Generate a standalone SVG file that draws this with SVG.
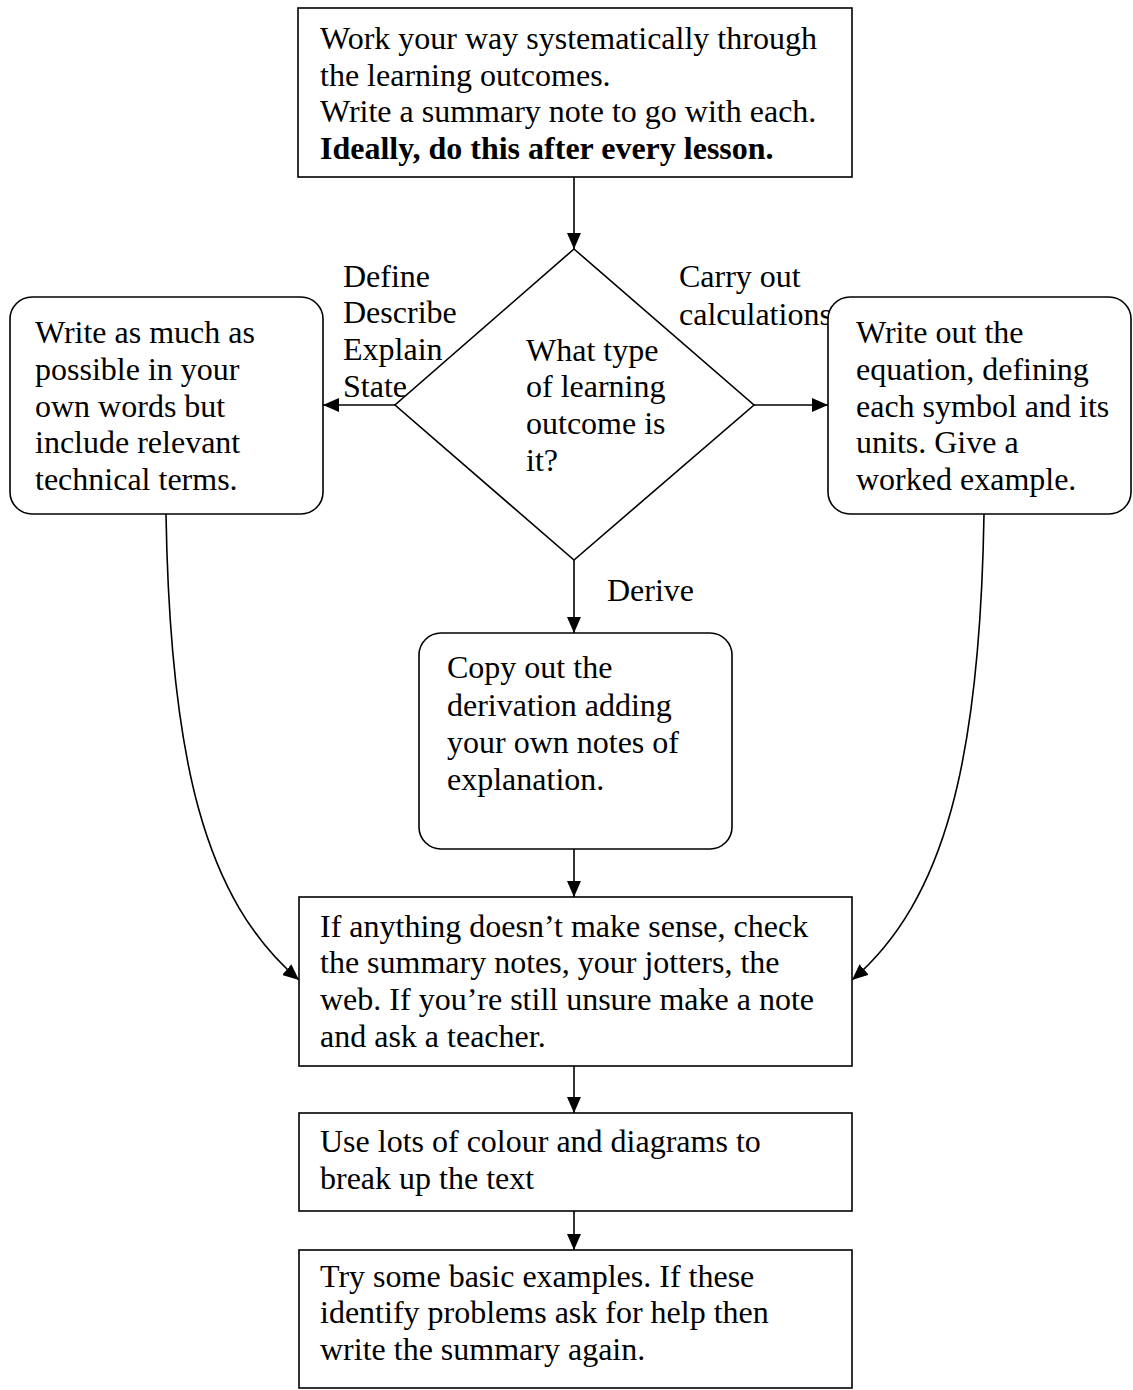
<svg xmlns="http://www.w3.org/2000/svg" width="1133" height="1390" viewBox="0 0 1133 1390">
<style>
  .box { fill: #ffffff; stroke: #000000; stroke-width: 1.6; }
  .line { fill: none; stroke: #000000; stroke-width: 1.6; }
  text { font-family: "Liberation Serif", "Times New Roman", serif; font-size: 32px; fill: #000000; }
  .b { font-weight: bold; }
</style>
<defs>
  <marker id="ah" viewBox="0 0 16 14" refX="16" refY="7" markerWidth="16" markerHeight="14" markerUnits="userSpaceOnUse" orient="auto">
    <path d="M0,0 L16,7 L0,14 z" fill="#000000"/>
  </marker>
</defs>
<rect x="0" y="0" width="1133" height="1390" fill="#ffffff"/>

<g id="connectors">
  <path class="line" d="M574,177 L574,249" marker-end="url(#ah)"/>
  <path class="line" d="M395,405 L323,405" marker-end="url(#ah)"/>
  <path class="line" d="M754,405 L828,405" marker-end="url(#ah)"/>
  <path class="line" d="M574,560 L574,633" marker-end="url(#ah)"/>
  <path class="line" d="M574,849 L574,897" marker-end="url(#ah)"/>
  <path class="line" d="M166,514 C170,760 205,900 299,980" marker-end="url(#ah)"/>
  <path class="line" d="M984,514 C980,760 945,900 852,980" marker-end="url(#ah)"/>
  <path class="line" d="M574,1066 L574,1113" marker-end="url(#ah)"/>
  <path class="line" d="M574,1211 L574,1250" marker-end="url(#ah)"/>
</g>

<g id="start">
  <rect class="box" x="298" y="8" width="554" height="169"/>
  <text x="320" y="49">Work your way systematically through</text>
  <text x="320" y="86">the learning outcomes.</text>
  <text x="320" y="122">Write a summary note to go with each.</text>
  <text x="320" y="159" class="b">Ideally, do this after every lesson.</text>
</g>

<g id="decision">
  <polygon class="box" points="574,249 754,405 574,560 395,405"/>
  <text x="526" y="361">What type</text>
  <text x="526" y="397">of learning</text>
  <text x="526" y="434">outcome is</text>
  <text x="526" y="471">it?</text>
</g>

<g id="labels">
  <text x="343" y="287">Define</text>
  <text x="343" y="323">Describe</text>
  <text x="343" y="360">Explain</text>
  <text x="343" y="397">State</text>
  <text x="679" y="287">Carry out</text>
  <text x="679" y="325">calculations</text>
  <text x="607" y="601">Derive</text>
</g>

<g id="describe">
  <rect class="box" x="10" y="297" width="313" height="217" rx="22" ry="22"/>
  <text x="35" y="343">Write as much as</text>
  <text x="35" y="380">possible in your</text>
  <text x="35" y="417">own words but</text>
  <text x="35" y="453">include relevant</text>
  <text x="35" y="490">technical terms.</text>
</g>

<g id="calculate">
  <rect class="box" x="828" y="297" width="303" height="217" rx="22" ry="22"/>
  <text x="856" y="343">Write out the</text>
  <text x="856" y="380">equation, defining</text>
  <text x="856" y="417">each symbol and its</text>
  <text x="856" y="453">units. Give a</text>
  <text x="856" y="490">worked example.</text>
</g>

<g id="derive">
  <rect class="box" x="419" y="633" width="313" height="216" rx="22" ry="22"/>
  <text x="447" y="678">Copy out the</text>
  <text x="447" y="716">derivation adding</text>
  <text x="447" y="753">your own notes of</text>
  <text x="447" y="790">explanation.</text>
</g>

<g id="check">
  <rect class="box" x="299" y="897" width="553" height="169"/>
  <text x="320" y="937">If anything doesn’t make sense, check</text>
  <text x="320" y="973">the summary notes, your jotters, the</text>
  <text x="320" y="1010">web. If you’re still unsure make a note</text>
  <text x="320" y="1047">and ask a teacher.</text>
</g>

<g id="colour">
  <rect class="box" x="299" y="1113" width="553" height="98"/>
  <text x="320" y="1152">Use lots of colour and diagrams to</text>
  <text x="320" y="1189">break up the text</text>
</g>

<g id="examples">
  <rect class="box" x="299" y="1250" width="553" height="138"/>
  <text x="320" y="1287">Try some basic examples. If these</text>
  <text x="320" y="1323">identify problems ask for help then</text>
  <text x="320" y="1360">write the summary again.</text>
</g>
</svg>
